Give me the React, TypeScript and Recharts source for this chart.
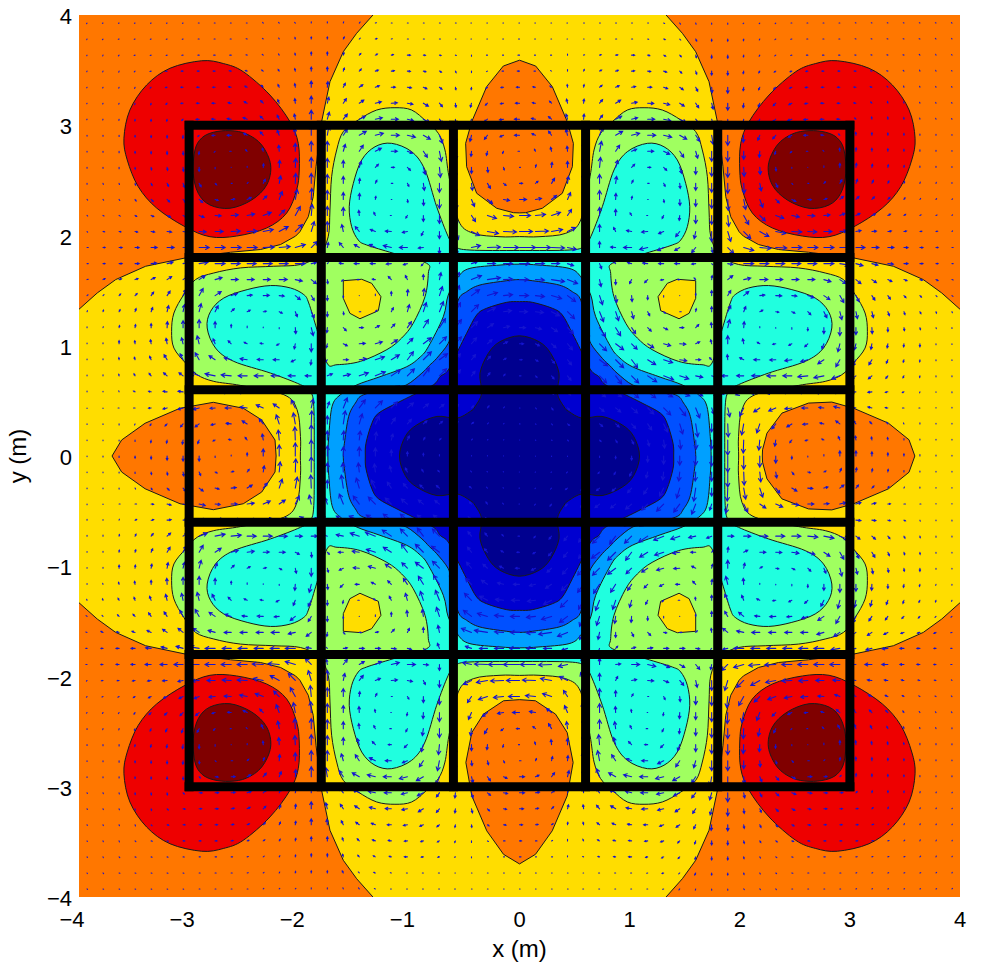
import React from 'react';
import { ScatterChart, Scatter, XAxis, YAxis, Curve } from 'recharts';

type Pt = number[];

const axisTicks = [-4, -3, -2, -1, 0, 1, 2, 3, 4];
const coilTicks = [-3, -1.8, -0.6, 0.6, 1.8, 3];
// grid of the quiver, upper left quadrant (last entry is the axis)
const quiverGrid = [
  3.927, 3.782, 3.636, 3.491, 3.345, 3.2, 3.055, 2.909, 2.764, 2.618, 2.473, 2.327, 2.182, 2.036,
  1.891, 1.745, 1.6, 1.455, 1.309, 1.164, 1.018, 0.873, 0.727, 0.582, 0.436, 0.291, 0.145, 0,
];

const COLORS = {
  darkRed: '#800000',
  red: '#ee0000',
  orange: '#ff7700',
  yellow: '#ffdd00',
  green: '#a0ff60',
  cyan: '#20ffdf',
  lightBlue: '#00a0ff',
  blue: '#0050ff',
  navy: '#0000d0',
  darkNavy: '#00008f',
};

// Contours, read in data units from the upper left quadrant
const redLoop = [
  [-2.886, 3.585], [-2.69, 3.56], [-2.509, 3.486], [-2.266, 3.274], [-2.084, 3.032], [-2.009, 2.836],
  [-2.0, 2.594], [-2.024, 2.413], [-2.114, 2.204], [-2.296, 2.068], [-2.569, 1.995], [-2.811, 1.989],
  [-3.038, 2.08], [-3.295, 2.249], [-3.462, 2.443], [-3.562, 2.685], [-3.592, 2.882], [-3.538, 3.138],
  [-3.386, 3.365], [-3.174, 3.517],
];
const darkRedLoop = [
  [-2.629, 2.951], [-2.478, 2.921], [-2.341, 2.821], [-2.26, 2.64], [-2.296, 2.458], [-2.432, 2.322],
  [-2.629, 2.247], [-2.811, 2.277], [-2.917, 2.383], [-2.963, 2.564], [-2.947, 2.776], [-2.886, 2.884],
  [-2.781, 2.936],
];
const yellowArc = [
  [0, 4.3], [-1.2, 4.3], [-1.331, 4.0], [-1.479, 3.834], [-1.6, 3.667], [-1.721, 3.395], [-1.797, 3.032],
  [-1.848, 2.624], [-1.873, 2.352], [-1.918, 2.17], [-1.994, 2.034], [-2.034, 1.994], [-2.17, 1.918],
  [-2.352, 1.873], [-2.624, 1.848], [-3.032, 1.797], [-3.395, 1.721], [-3.667, 1.6], [-3.834, 1.479],
  [-4.0, 1.331], [-4.3, 1.2], [-4.3, 0],
];
const teardropTop = [
  [0, 3.59], [-0.147, 3.537], [-0.298, 3.35], [-0.434, 3.032], [-0.489, 2.836], [-0.48, 2.624],
  [-0.389, 2.383], [-0.207, 2.247], [-0.056, 2.207], [0, 2.205],
];
const teardropLeft = [
  [-3.7, 0], [-3.613, 0.145], [-3.4, 0.297], [-3.083, 0.433], [-2.78, 0.487], [-2.508, 0.433],
  [-2.341, 0.327], [-2.22, 0.145], [-2.21, 0],
];
const greenArc = [
  [0, 1.99], [-0.177, 1.989], [-0.42, 2.02], [-0.556, 2.14], [-0.64, 2.533], [-0.677, 2.776], [-0.737, 2.927],
  [-0.843, 3.032], [-0.979, 3.138], [-1.131, 3.159], [-1.297, 3.138], [-1.464, 3.048], [-1.6, 2.942],
  [-1.66, 2.776], [-1.706, 2.533], [-1.721, 2.231], [-1.737, 1.989], [-1.82, 1.82], [-1.989, 1.737],
  [-2.231, 1.721], [-2.533, 1.706], [-2.776, 1.66], [-2.942, 1.6], [-3.048, 1.464], [-3.138, 1.297],
  [-3.159, 1.131], [-3.138, 0.979], [-3.032, 0.843], [-2.927, 0.737], [-2.776, 0.677], [-2.533, 0.64],
  [-2.14, 0.556], [-2.02, 0.42], [-1.989, 0.177], [-1.99, 0],
];
const smallYellowLoop = [
  [-1.6, 1.59], [-1.433, 1.603], [-1.342, 1.566], [-1.258, 1.445], [-1.282, 1.318], [-1.449, 1.245],
  [-1.54, 1.294], [-1.6, 1.43],
];
const cyanArc = [
  [0, 1.864], [-0.45, 1.868], [-0.586, 1.9], [-0.647, 1.989], [-0.752, 2.261], [-0.858, 2.594], [-0.979, 2.76],
  [-1.161, 2.836], [-1.312, 2.805], [-1.433, 2.685], [-1.509, 2.473], [-1.546, 2.261], [-1.524, 2.08],
  [-1.464, 1.959], [-1.388, 1.914], [-1.146, 1.839], [-0.843, 1.748], [-0.828, 1.657], [-0.858, 1.445],
  [-0.965, 1.204], [-1.07, 1.07], [-1.204, 0.965], [-1.445, 0.858], [-1.657, 0.828], [-1.748, 0.843],
  [-1.839, 1.146], [-1.914, 1.388], [-1.959, 1.464], [-2.08, 1.524], [-2.261, 1.546], [-2.473, 1.509],
  [-2.685, 1.433], [-2.805, 1.312], [-2.836, 1.161], [-2.76, 0.979], [-2.594, 0.858], [-2.261, 0.752],
  [-1.989, 0.647], [-1.9, 0.586], [-1.868, 0.45], [-1.864, 0],
];
const lightBlueArc = [
  [0, 1.74], [-0.177, 1.732], [-0.45, 1.702], [-0.556, 1.626], [-0.647, 1.46], [-0.692, 1.263], [-0.828, 0.991],
  [-0.9, 0.9], [-1.024, 0.81], [-1.267, 0.719], [-1.479, 0.644], [-1.626, 0.556], [-1.702, 0.45], [-1.732, 0.177],
  [-1.74, 0],
];
const blueArc = [
  [0, 1.6], [-0.116, 1.59], [-0.359, 1.551], [-0.48, 1.49], [-0.556, 1.415], [-0.62, 1.15], [-0.647, 1.022],
  [-0.752, 0.886], [-0.82, 0.82], [-0.886, 0.752], [-1.022, 0.647], [-1.15, 0.62], [-1.415, 0.556], [-1.49, 0.48],
  [-1.551, 0.359], [-1.59, 0.116], [-1.6, 0],
];
const navyArc = [
  [0, 1.4], [-0.116, 1.394], [-0.298, 1.34], [-0.389, 1.279], [-0.48, 1.113], [-0.556, 0.961], [-0.647, 0.78],
  [-0.72, 0.72], [-0.78, 0.647], [-0.961, 0.556], [-1.113, 0.48], [-1.279, 0.389], [-1.34, 0.298], [-1.394, 0.116],
  [-1.4, 0],
];
const darkNavyArc = [
  [0, 1.09], [-0.177, 1.037], [-0.283, 0.931], [-0.359, 0.75], [-0.343, 0.57], [-0.404, 0.447], [-0.447, 0.404],
  [-0.57, 0.343], [-0.75, 0.359], [-0.931, 0.283], [-1.037, 0.177], [-1.09, 0],
];

// Arrows of the upper left quadrant as [u, v], row j holds columns i = j..27.
// The rest of the quadrant is the same field reflected in its diagonal.
const quiverRows = [
  [[-.5,-.5],[-.6,-.3],[-.6,-.3],[-.6,-.3],[-.6,-.3],[-.6,-.3],[-.6,-.3],[-.8,0],[-.8,0],[-.8,0],[-.8,0],[-.6,.6],[-.6,.6],[-.6,.6],[0,1.2],[0,1.2],[.4,1.2],[.8,1],[1,.4],[.8,0],[.8,0],[.8,0],[.8,0],[.8,0],[-.6,0],[-.6,0],[-.6,0],[-.6,0]],
  [[-.6,-.6],[-.8,-.3],[-.8,-.3],[-.8,-.3],[-.8,-.3],[-.8,-.3],[-1,0],[-1,0],[-1,0],[-1,.3],[-.8,.6],[-.5,1],[-.3,1.5],[0,2],[0,2],[1,2],[1,1],[1.5,.5],[1,.3],[1,0],[1,0],[1,0],[.5,0],[-.5,0],[-.6,0],[-.8,0],[-1,0]],
  [[-.7,-.7],[-1,-.3],[-1,-.3],[-1,-.3],[-1.2,-.2],[-1.2,0],[-1.4,0],[-1.4,0],[-1.2,.3],[-1,.7],[-.7,1.2],[-.3,1.8],[0,3],[0,3],[.7,2.5],[1.5,1.5],[2,1],[2,.5],[3,0],[2,-.2],[1.5,-.3],[1,-.3],[0,-1],[-1,0],[-1,0],[-1.5,0]],
  [[-.8,-.8],[-1.2,-.4],[-1.4,-.3],[-1.6,-.1],[-1.7,0],[-1.8,0],[-1.8,.2],[-1.7,.6],[-1.5,1],[-1,1.6],[-.5,2.5],[0,4],[0,4],[1,3],[2,2],[3,1],[3,.5],[3,-.3],[2.5,-.7],[2,-1],[.7,-1.5],[0,-1.5],[-1,-.5],[-1.5,0],[-2,0]],
  [[-1,-1],[-1.5,-.4],[-2,-.1],[-2.2,0],[-2.3,0],[-2.5,.4],[-2.2,1],[-2,2],[-1.2,2.6],[-.5,3.5],[0,6],[.5,5.5],[2,4],[3.5,2.5],[4,1.5],[4,0],[4,-.7],[3.5,-1.5],[2.5,-2],[.5,-2.5],[-.3,-2.5],[-1.5,-1],[-2.5,-.3],[-3,0]],
  [[-1.1,-1.1],[-2,-.3],[-2.5,0],[-3,0],[-3,.5],[-3,1.5],[-2.5,2.5],[-1.5,3.5],[-.5,4.5],[0,7],[1.5,6],[3,4.5],[4.5,3],[6,1.5],[6,.3],[5.5,-1],[5,-3],[3,-3.5],[.5,-4],[-1,-4],[-2,-2],[-3,-.5],[-4,0]],
  [[-1.2,-1.2],[-3,-.2],[-3.5,.2],[-4,.5],[-4,1.5],[-3,3],[-2,4],[-1,5],[0,9],[2,7],[4,5],[6,3],[7,1.5],[7,0],[6,-1.5],[6,-3],[3,-4],[.5,-5],[-1.5,-5],[-3,-2.5],[-4,-.7],[-5,0]],
  [[-1.2,-1.2],[-3,-.3],[-4,0],[-3.5,2],[-3,3.5],[-2,5],[-.5,7],[0,10],[1.5,9],[4,6],[7,4],[8,2],[8,0],[8,-2],[7,-4],[3,-8],[.5,-7],[-1.5,-6],[-3,-4],[-3.5,-1.5],[-5,0]],
  [[-1,-1],[-1.5,0],[-1.5,1.5],[-1,3],[-.5,6],[0,8],[0,10],[0,10],[2,7],[4,6],[6,3],[6,0],[5,-2],[4,-6],[2,-10],[.5,-9],[-.5,-5],[-1,-4],[-1,-2],[-1.5,0]],
  [[0,0],[0,1],[.3,3.5],[.5,7],[.5,9],[0,10],[0,9],[0,7],[2,6],[3,3],[3,0],[3,-3],[2,-7],[1,-10],[0,-10],[0,-6],[.5,-5],[.7,-2.5],[1,0]],
  [[1,1],[2,4],[1.5,7.5],[.5,10],[0,10],[0,9],[0,7],[.5,5],[1.5,3],[1.5,0],[1.5,-3],[1,-7],[0,-9],[0,-10],[1,-7],[3,-5],[2.5,-2],[3,0]],
  [[3.5,3.5],[3,8],[2,10],[.5,11],[0,9],[0,7],[.3,6],[.5,3],[.5,0],[.5,-3],[.3,-6],[0,-9],[1,-10],[3,-7],[5,-4],[6,-1],[7,0]],
  [[5.5,5.5],[5,9],[1,11],[0,9],[0,8],[-.5,5],[-1.5,3],[-1,0],[-1.5,-2.5],[0,-6],[0,-8],[1,-10],[4,-6],[9,-3],[10,-1],[11,0]],
  [[7,7],[3,10],[0,10],[-1.5,7],[-4,5],[-5,2],[-6,.5],[-5,-1],[-2,-4],[0,-7],[3,-8],[8,-4],[11,-2],[13,-.5],[13,0]],
  [[6,6],[1,5],[-4,5],[-5,3],[-6,3],[-8,2],[-8,0],[-5,-.5],[0,-6],[2,-7],[9,2],[13,.5],[15,0],[16,0]],
  [[1,1],[-4,.5],[-5,0],[-5,0],[-5,-.5],[-4,-1],[-2,-2],[2,5],[4,5],[6,2],[8,0],[9,0],[10,0]],
  [[-1.5,-1.5],[-2,0],[-3,.5],[-3,3],[-2,4],[0,5],[1.5,7],[4,7],[10,4],[13,2],[9,.5],[9,0]],
  [[0,0],[0,1.5],[0,4],[.5,6],[1,7],[3,9],[4,10],[8,6],[10,3],[9,1],[9,0]],
  [[1.5,1.5],[2,4],[2,7],[3,9],[4,10],[5,9],[7,7],[8,4],[8,1],[8,0]],
  [[3.5,3.5],[4,6],[5,8],[6,9],[6,8],[6,6],[6,4],[6,1.5],[6,0]],
  [[5.5,5.5],[8,6],[7,7],[6,7],[5,6],[4.5,4],[4,2],[4,0]],
  [[8,8],[8,6],[5,6],[4,5],[3,3.5],[2.5,1.5],[2.5,0]],
  [[7,7],[5,6],[3.5,4.5],[2.5,3],[1.5,1.5],[1.5,0]],
  [[4,4],[3,3],[2,2.5],[1,1.5],[1,0]],
  [[2,2],[1.5,2],[1,1],[.5,0]],
  [[1,1],[.5,.5],[.5,0]],
  [[.3,.3],[.2,0]],
  [[0,0]],
];

const flipX = (pts: Pt[]) => pts.map(([x, y]) => [-x, y]);
const flipY = (pts: Pt[]) => pts.map(([x, y]) => [x, -y]);
const flipDiag = (pts: Pt[]) => pts.map(([x, y]) => [-y, -x]);
const corners = (pts: Pt[]) => [pts, flipX(pts), flipY(pts), flipX(flipY(pts))];
// quadrant arc -> closed loop round the centre
const aroundCentre = (arc: Pt[]) => [
  ...arc,
  ...flipY(arc).slice(0, -1).reverse(),
  ...flipX(flipY(arc)).slice(1),
  ...flipX(arc).slice(1, -1).reverse(),
];
const halfToLoop = (half: Pt[]) => [...half, ...flipX(half).reverse()];
const halfToLoopV = (half: Pt[]) => [...half, ...flipY(half).reverse()];

const topDrop = halfToLoop(teardropTop);
const leftDrop = halfToLoopV(teardropLeft);

const frame = [[-4, -4], [-4, 4], [4, 4], [4, -4]];

const shapes: { pts: Pt[]; fill: string; smooth?: boolean; line?: boolean }[] = [
  { pts: frame, fill: COLORS.orange, line: false },
  ...corners(redLoop).map((pts) => ({ pts, fill: COLORS.red, smooth: true })),
  ...corners(darkRedLoop).map((pts) => ({ pts, fill: COLORS.darkRed, smooth: true })),
  { pts: aroundCentre(yellowArc), fill: COLORS.yellow },
  { pts: topDrop, fill: COLORS.orange },
  { pts: flipDiag(flipX(flipY(topDrop))), fill: COLORS.orange },
  { pts: leftDrop, fill: COLORS.orange },
  { pts: flipY(flipDiag(leftDrop)), fill: COLORS.orange },
  { pts: aroundCentre(greenArc), fill: COLORS.green, smooth: true },
  ...corners(smallYellowLoop).map((pts) => ({ pts, fill: COLORS.yellow })),
  { pts: aroundCentre(cyanArc), fill: COLORS.cyan, smooth: true },
  { pts: aroundCentre(lightBlueArc), fill: COLORS.lightBlue, smooth: true },
  { pts: aroundCentre(blueArc), fill: COLORS.blue, smooth: true },
  { pts: aroundCentre(navyArc), fill: COLORS.navy, smooth: true },
  { pts: aroundCentre(darkNavyArc), fill: COLORS.darkNavy, smooth: true },
];

// expand the triangular table over the whole plot
const arrows: { x: number; y: number; u: number; v: number }[] = [];
const pushArrow = (i: number, j: number, u: number, v: number) => {
  const x = -quiverGrid[i];
  const y = quiverGrid[j];
  arrows.push({ x, y, u, v });
  if (i !== 27) arrows.push({ x: -x, y, u, v: -v });
  if (j !== 27) arrows.push({ x, y: -y, u: -u, v });
  if (i !== 27 && j !== 27) arrows.push({ x: -x, y: -y, u: -u, v: -v });
};
quiverRows.forEach((row, j) =>
  row.forEach(([u, v], k) => {
    const i = j + k;
    pushArrow(i, j, u, v);
    if (i !== j) pushArrow(j, i, v, u);
  }),
);

const coilLines = coilTicks.flatMap((t) => [
  [{ x: t, y: -3 }, { x: t, y: 3 }],
  [{ x: -3, y: t }, { x: 3, y: t }],
]);

const toData = (pts: Pt[]) => pts.map(([x, y]) => ({ x, y }));
const noDot = () => <g />;

// closed Catmull-Rom through the scaled points, Curve has no such type
const smoothPath = (points: { x: number; y: number }[]) => {
  const n = points.length;
  let d = `M${points[0].x} ${points[0].y}`;
  for (let k = 0; k < n; k++) {
    const p0 = points[(k - 1 + n) % n];
    const p1 = points[k];
    const p2 = points[(k + 1) % n];
    const p3 = points[(k + 2) % n];
    d += `C${p1.x + (p2.x - p0.x) / 6} ${p1.y + (p2.y - p0.y) / 6} ${p2.x - (p3.x - p1.x) / 6} ${p2.y - (p3.y - p1.y) / 6} ${p2.x} ${p2.y}`;
  }
  return `${d}Z`;
};

const Arrow = (props: any) => {
  const { cx, cy, payload } = props;
  const { u, v } = payload;
  const len = Math.hypot(u, v);
  const tipX = cx + u;
  const tipY = cy - v;
  let d = `M${cx} ${cy}L${tipX + 0.01} ${tipY}`;
  if (len > 1.5) {
    const ax = u / len;
    const ay = -v / len;
    const h = Math.min(3.6, len * 0.4);
    const w = h * 0.55;
    d += `M${tipX - ax * h - ay * w} ${tipY - ay * h + ax * w}L${tipX} ${tipY}L${tipX - ax * h + ay * w} ${tipY - ay * h - ax * w}`;
  }
  return <path d={d} fill="none" stroke="#1414d0" strokeWidth={1.1} strokeLinecap="round" />;
};

const fontFamily = '"Liberation Sans", Arial, sans-serif';
const fmt = (v: number) => (v < 0 ? `\u2212${-v}` : `${v}`);

const XTick = ({ x, y, payload }: any) => (
  <text x={x - (payload.value < 0 ? 7 : 0)} y={y + 28} textAnchor="middle" fontSize={22} fontFamily={fontFamily} fill="#000">
    {fmt(payload.value)}
  </text>
);
const YTick = ({ x, y, payload }: any) => (
  <text x={x - 5} y={y + 9} textAnchor="end" fontSize={22} fontFamily={fontFamily} fill="#000">
    {fmt(payload.value)}
  </text>
);

export default function App() {
  return (
    <div style={{ position: 'absolute', left: 0, top: 0, width: 1000, height: 969, background: '#fff' }}>
      <ScatterChart width={1000} height={969} margin={{ top: 15, right: 40, bottom: 0, left: 0 }}>
        <XAxis
          type="number"
          dataKey="x"
          domain={[-4, 4]}
          ticks={axisTicks}
          allowDataOverflow
          height={72}
          axisLine={false}
          tickLine={false}
          tickSize={0}
          tick={<XTick />}
          interval={0}
          label={{ value: 'x (m)', position: 'insideBottom', offset: 12, fontSize: 24, fontFamily, fill: '#000' }}
        />
        <YAxis
          type="number"
          dataKey="y"
          domain={[-4, 4]}
          ticks={axisTicks}
          allowDataOverflow
          width={79}
          axisLine={false}
          tickLine={false}
          tickSize={0}
          tick={<YTick />}
          interval={0}
          label={{ value: 'y (m)', angle: -90, position: 'insideLeft', offset: 17, fontSize: 24, fontFamily, fill: '#000', style: { textAnchor: 'middle' } }}
        />
        {shapes.map((s, idx) => (
          <Scatter
            key={`contour-${idx}`}
            data={toData(s.pts)}
            isAnimationActive={false}
            shape={noDot}
            line={(p: any) =>
              s.smooth ? (
                <path d={smoothPath(p.points)} fill={s.fill} stroke="#1a1a1a" strokeWidth={1} />
              ) : (
                <Curve
                  points={p.points}
                  type="linearClosed"
                  fill={s.fill}
                  stroke={s.line === false ? 'none' : '#1a1a1a'}
                  strokeWidth={1}
                />
              )
            }
          />
        ))}
        <Scatter data={arrows} isAnimationActive={false} shape={Arrow} />
        {coilLines.map((seg, idx) => (
          <Scatter
            key={`coil-${idx}`}
            data={seg}
            isAnimationActive={false}
            shape={noDot}
            line={(p: any) => (
              <Curve points={p.points} type="linear" fill="none" stroke="#000" strokeWidth={9} strokeLinecap="square" />
            )}
          />
        ))}
      </ScatterChart>
    </div>
  );
}
